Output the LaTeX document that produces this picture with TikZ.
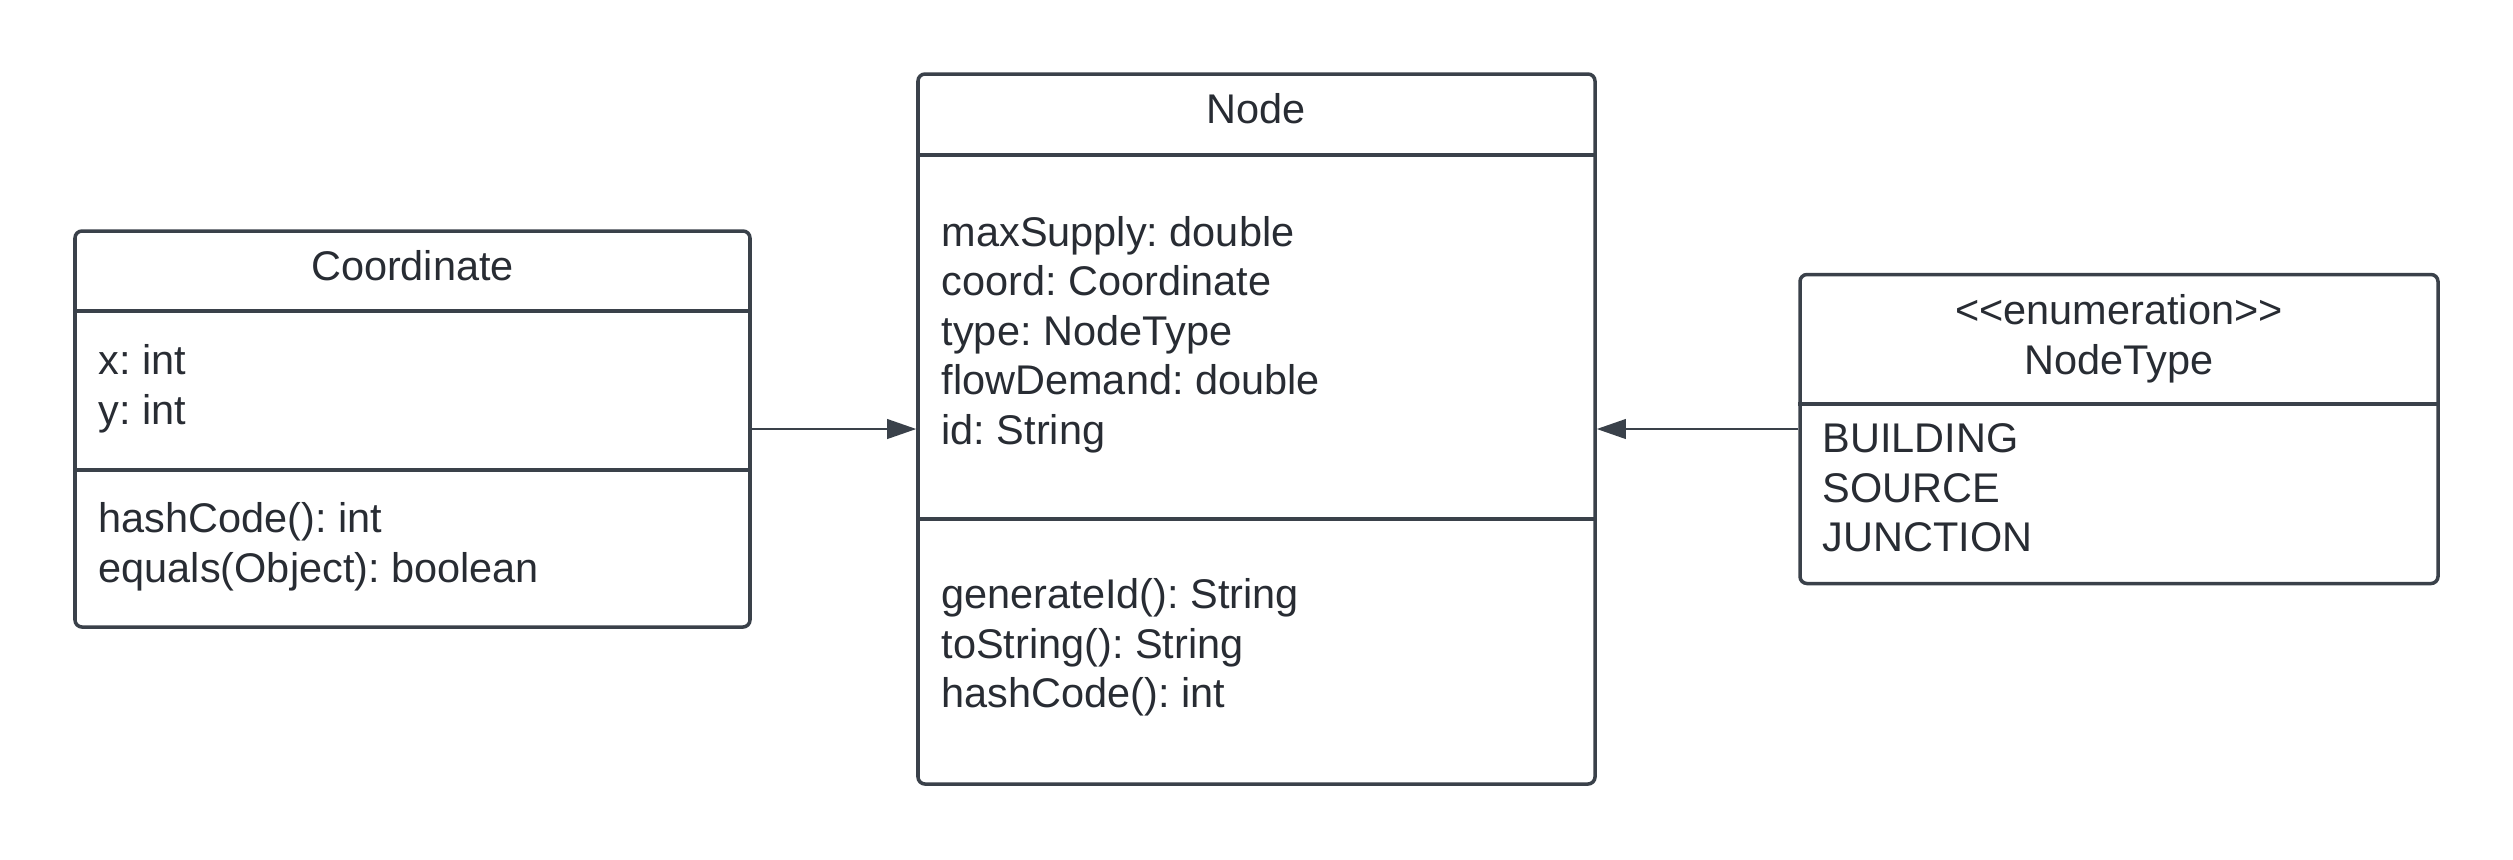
\documentclass[tikz,border=0pt]{standalone}
\usepackage{fontspec}
\setmainfont{Liberation Sans}
\usepackage{xcolor}
\definecolor{uLine}{HTML}{3A414A}
\definecolor{uText}{HTML}{282C33}
\usetikzlibrary{arrows.meta, positioning}
\frenchspacing

\begin{document}
\begin{tikzpicture}[
  every node/.style={font=\fontsize{11.8}{14.1}\selectfont, text=uText},
  cls/.style={rectangle, rounded corners=2pt, draw=uLine, line width=1pt,
              inner sep=0pt},
  member/.style={anchor=west, align=left, inner sep=0pt},
  divider/.style={draw=uLine, line width=1pt},
  assoc/.style={draw=uLine, line width=0.6pt,
                -{Triangle[length=8.3pt, width=5.6pt]}}
]
\useasboundingbox (0,0) rectangle (25.13,-8.59);

% Coordinate
\node[cls, minimum width=6.75cm, minimum height=3.96cm] (coordBox) at (4.125,-4.29) {};
\draw[divider] (coordBox.west |- 0,-3.11) -- (coordBox.east |- 0,-3.11);
\draw[divider] (coordBox.west |- 0,-4.70) -- (coordBox.east |- 0,-4.70);
\node (coordTitle) at (4.125,-2.66) {Coordinate};
\node[member] (coordAttr) at (0.98,-3.885) {x: int\\y: int};
\node[member] (coordOps) at (0.98,-5.465) {hashCode(): int\\equals(Object): boolean};

% Node
\node[cls, minimum width=6.77cm, minimum height=7.10cm] (nodeBox) at (12.565,-4.29) {};
\draw[divider] (nodeBox.west |- 0,-1.55) -- (nodeBox.east |- 0,-1.55);
\draw[divider] (nodeBox.west |- 0,-5.19) -- (nodeBox.east |- 0,-5.19);
\node (nodeTitle) at (12.565,-1.09) {Node};
\node[member] (nodeAttr) at (9.41,-3.345)
  {maxSupply: double\\coord: Coordinate\\type: NodeType\\flowDemand: double\\id: String};
\node[member] (nodeOps) at (9.41,-6.475)
  {generateId(): String\\toString(): String\\hashCode(): int};

% NodeType
\node[cls, minimum width=6.38cm, minimum height=3.09cm] (typeBox) at (21.19,-4.29) {};
\draw[divider] (typeBox.west |- 0,-4.04) -- (typeBox.east |- 0,-4.04);
\node[align=center, inner sep=0pt] (typeTitle) at (21.19,-3.385)
  {<{}<enumeration>{}>\\NodeType};
\node[member] (typeLits) at (18.22,-4.88) {BUILDING\\SOURCE\\JUNCTION};

\draw[assoc] (coordBox.east) -- (nodeBox.west);
\draw[assoc] (typeBox.west) -- (nodeBox.east);
\end{tikzpicture}
\end{document}
